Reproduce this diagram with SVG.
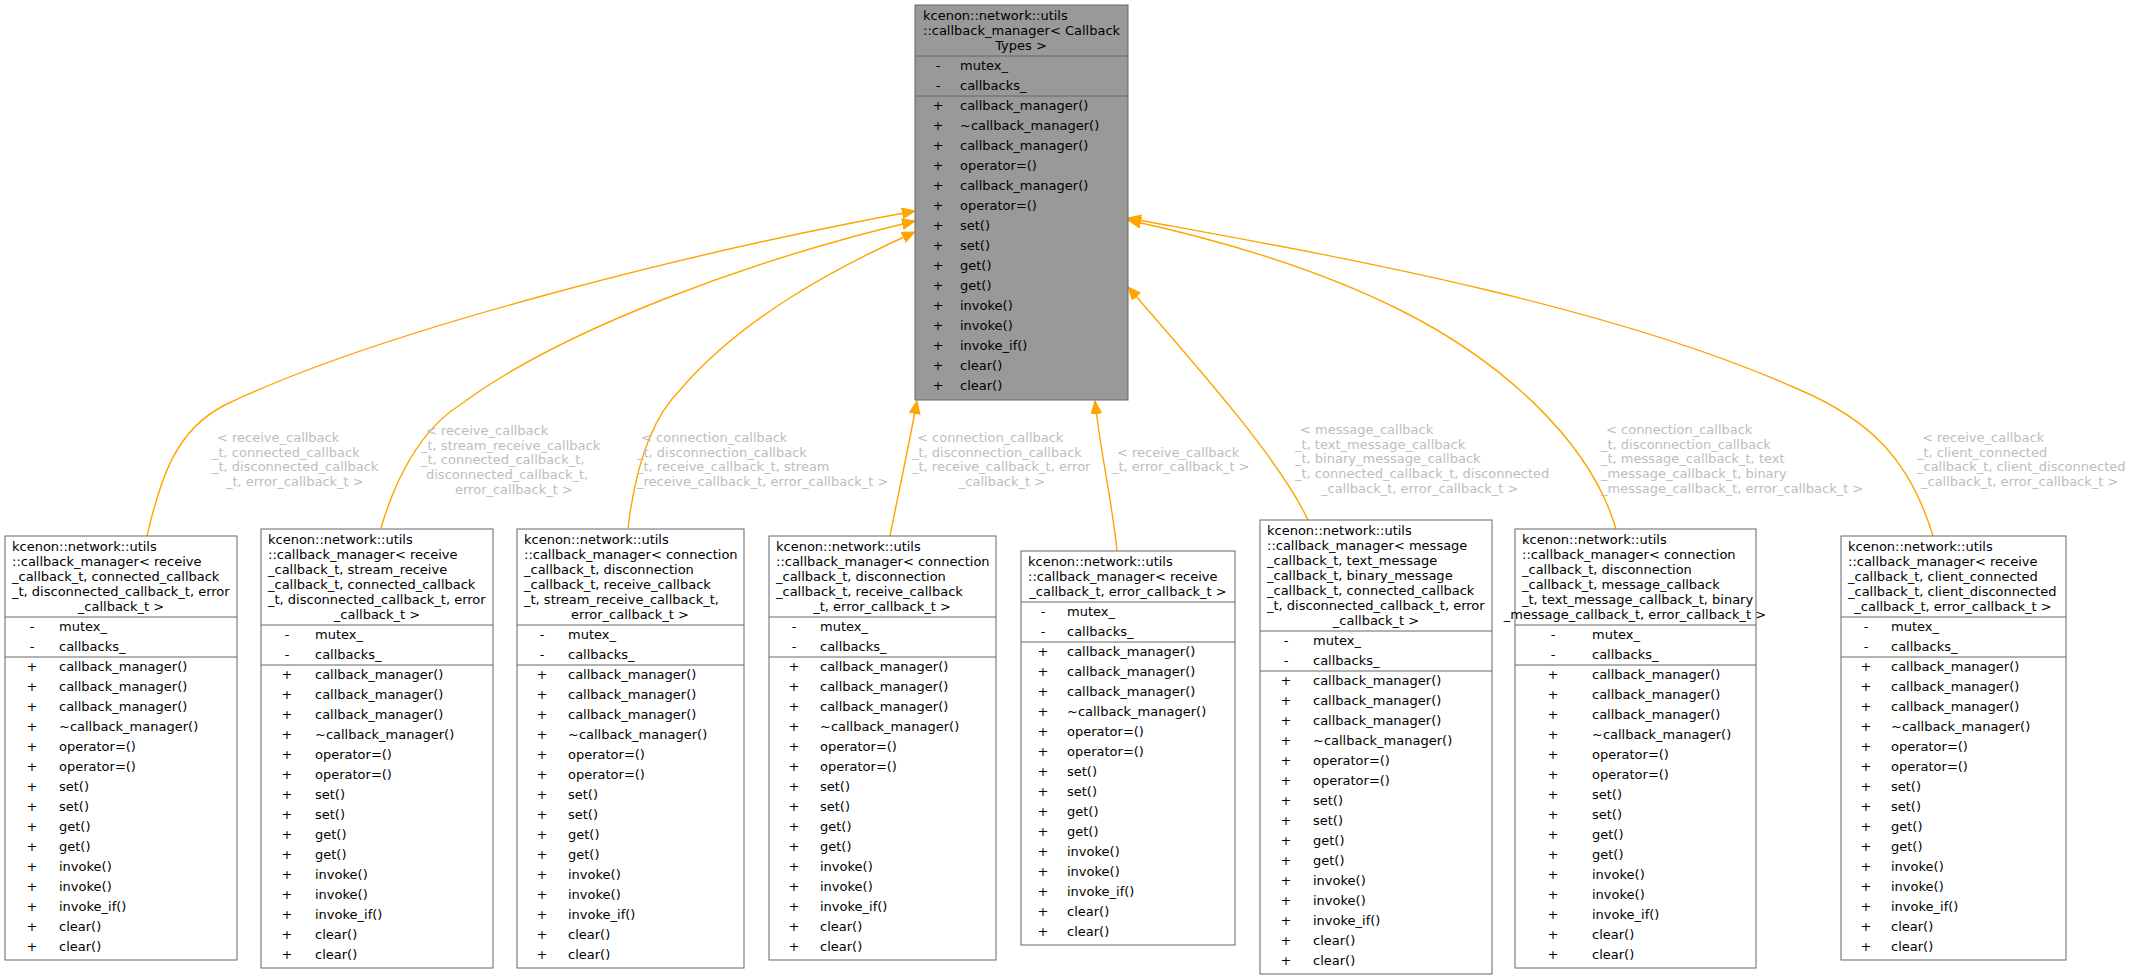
<svg xmlns="http://www.w3.org/2000/svg" width="2133" height="980" viewBox="0 0 2133 980">
<style>
text{font-family:"DejaVu Sans","Liberation Sans",sans-serif;font-size:13px;fill:#000}
.box{fill:#fff;stroke:#666;stroke-width:1}
.top{fill:#999;stroke:#666;stroke-width:1}
.sep{stroke:#666;stroke-width:1}
.c{text-anchor:middle}
.s{text-anchor:middle}
.lbl{fill:#bdbdbd}
.e{fill:none;stroke:#ffa500;stroke-width:1.4}
</style>
<defs>
<marker id="ar" markerUnits="userSpaceOnUse" markerWidth="14" markerHeight="12" refX="13" refY="5.5" orient="auto">
<path d="M0,0 L13,5.5 L0,11 z" fill="#ffa500" stroke="#ffa500"/>
</marker>
</defs>
<rect width="2133" height="980" fill="#fff"/>

<g id="connectors">
<path class="e" marker-end="url(#ar)" d="M147,536 C160,480 175,430 225,405 C380,330 700,250 915,211"/>
<path class="e" marker-end="url(#ar)" d="M381,528 C395,480 420,430 460,405 C560,330 750,260 915,221"/>
<path class="e" marker-end="url(#ar)" d="M628,528 C635,470 650,420 680,390 C740,320 830,270 915,232"/>
<path class="e" marker-end="url(#ar)" d="M890,536 C897,500 908,450 917,401"/>
<path class="e" marker-end="url(#ar)" d="M1117,551 C1112,500 1100,450 1095,401"/>
<path class="e" marker-end="url(#ar)" d="M1308,520 C1280,460 1200,370 1128,287"/>
<path class="e" marker-end="url(#ar)" d="M1616,529 C1590,440 1500,360 1400,310 C1320,270 1220,240 1128,220"/>
<path class="e" marker-end="url(#ar)" d="M1933,536 C1910,460 1870,420 1800,390 C1600,300 1300,250 1128,218"/>
<text class="lbl"><tspan x="217" y="442">&lt; receive_callback</tspan><tspan x="212" y="457">_t, connected_callback</tspan><tspan x="212" y="471">_t, disconnected_callback</tspan><tspan x="226" y="486">_t, error_callback_t &gt;</tspan></text>
<text class="lbl"><tspan x="426" y="435">&lt; receive_callback</tspan><tspan x="421" y="450">_t, stream_receive_callback</tspan><tspan x="421" y="464">_t, connected_callback_t,</tspan><tspan x="426" y="479">disconnected_callback_t,</tspan><tspan x="455" y="494">error_callback_t &gt;</tspan></text>
<text class="lbl"><tspan x="641" y="442">&lt; connection_callback</tspan><tspan x="637" y="457">_t, disconnection_callback</tspan><tspan x="637" y="471">_t, receive_callback_t, stream</tspan><tspan x="637" y="486">_receive_callback_t, error_callback_t &gt;</tspan></text>
<text class="lbl"><tspan x="917" y="442">&lt; connection_callback</tspan><tspan x="912" y="457">_t, disconnection_callback</tspan><tspan x="912" y="471">_t, receive_callback_t, error</tspan><tspan x="1002" y="486" class="c">_callback_t &gt;</tspan></text>
<text class="lbl"><tspan x="1117" y="457">&lt; receive_callback</tspan><tspan x="1112" y="471">_t, error_callback_t &gt;</tspan></text>
<text class="lbl"><tspan x="1300" y="434">&lt; message_callback</tspan><tspan x="1295" y="449">_t, text_message_callback</tspan><tspan x="1295" y="463">_t, binary_message_callback</tspan><tspan x="1295" y="478">_t, connected_callback_t, disconnected</tspan><tspan x="1321" y="493">_callback_t, error_callback_t &gt;</tspan></text>
<text class="lbl"><tspan x="1606" y="434">&lt; connection_callback</tspan><tspan x="1601" y="449">_t, disconnection_callback</tspan><tspan x="1601" y="463">_t, message_callback_t, text</tspan><tspan x="1601" y="478">_message_callback_t, binary</tspan><tspan x="1601" y="493">_message_callback_t, error_callback_t &gt;</tspan></text>
<text class="lbl"><tspan x="1922" y="442">&lt; receive_callback</tspan><tspan x="1917" y="457">_t, client_connected</tspan><tspan x="1917" y="471">_callback_t, client_disconnected</tspan><tspan x="1921" y="486">_callback_t, error_callback_t &gt;</tspan></text>
</g>

<g id="base">
<rect class="top" x="915" y="5" width="213" height="395"/>
<text><tspan x="923" y="20">kcenon::network::utils</tspan><tspan x="923" y="35">::callback_manager&lt; Callback</tspan><tspan x="1021" y="50" class="c">Types &gt;</tspan></text>
<line class="sep" x1="915" y1="56" x2="1128" y2="56"/>
<text class="s"><tspan x="938" y="70">-</tspan><tspan x="938" y="90">-</tspan></text>
<text><tspan x="960" y="70">mutex_</tspan><tspan x="960" y="90">callbacks_</tspan></text>
<line class="sep" x1="915" y1="96" x2="1128" y2="96"/>
<text class="s"><tspan x="938" y="110">+</tspan><tspan x="938" dy="20">+</tspan><tspan x="938" dy="20">+</tspan><tspan x="938" dy="20">+</tspan><tspan x="938" dy="20">+</tspan><tspan x="938" dy="20">+</tspan><tspan x="938" dy="20">+</tspan><tspan x="938" dy="20">+</tspan><tspan x="938" dy="20">+</tspan><tspan x="938" dy="20">+</tspan><tspan x="938" dy="20">+</tspan><tspan x="938" dy="20">+</tspan><tspan x="938" dy="20">+</tspan><tspan x="938" dy="20">+</tspan><tspan x="938" dy="20">+</tspan></text>
<text><tspan x="960" y="110">callback_manager()</tspan><tspan x="960" dy="20">~callback_manager()</tspan><tspan x="960" dy="20">callback_manager()</tspan><tspan x="960" dy="20">operator=()</tspan><tspan x="960" dy="20">callback_manager()</tspan><tspan x="960" dy="20">operator=()</tspan><tspan x="960" dy="20">set()</tspan><tspan x="960" dy="20">set()</tspan><tspan x="960" dy="20">get()</tspan><tspan x="960" dy="20">get()</tspan><tspan x="960" dy="20">invoke()</tspan><tspan x="960" dy="20">invoke()</tspan><tspan x="960" dy="20">invoke_if()</tspan><tspan x="960" dy="20">clear()</tspan><tspan x="960" dy="20">clear()</tspan></text>
</g>

<g id="n1">
<rect class="box" x="5" y="536" width="232" height="424"/>
<text><tspan x="12" y="551">kcenon::network::utils</tspan><tspan x="12" y="566">::callback_manager&lt; receive</tspan><tspan x="12" y="581">_callback_t, connected_callback</tspan><tspan x="12" y="596">_t, disconnected_callback_t, error</tspan><tspan x="121" y="611" class="c">_callback_t &gt;</tspan></text>
<line class="sep" x1="5" y1="617" x2="237" y2="617"/>
<text class="s"><tspan x="32" y="631">-</tspan><tspan x="32" y="651">-</tspan></text>
<text><tspan x="59" y="631">mutex_</tspan><tspan x="59" y="651">callbacks_</tspan></text>
<line class="sep" x1="5" y1="657" x2="237" y2="657"/>
<text class="s"><tspan x="32" y="671">+</tspan><tspan x="32" dy="20">+</tspan><tspan x="32" dy="20">+</tspan><tspan x="32" dy="20">+</tspan><tspan x="32" dy="20">+</tspan><tspan x="32" dy="20">+</tspan><tspan x="32" dy="20">+</tspan><tspan x="32" dy="20">+</tspan><tspan x="32" dy="20">+</tspan><tspan x="32" dy="20">+</tspan><tspan x="32" dy="20">+</tspan><tspan x="32" dy="20">+</tspan><tspan x="32" dy="20">+</tspan><tspan x="32" dy="20">+</tspan><tspan x="32" dy="20">+</tspan></text>
<text><tspan x="59" y="671">callback_manager()</tspan><tspan x="59" dy="20">callback_manager()</tspan><tspan x="59" dy="20">callback_manager()</tspan><tspan x="59" dy="20">~callback_manager()</tspan><tspan x="59" dy="20">operator=()</tspan><tspan x="59" dy="20">operator=()</tspan><tspan x="59" dy="20">set()</tspan><tspan x="59" dy="20">set()</tspan><tspan x="59" dy="20">get()</tspan><tspan x="59" dy="20">get()</tspan><tspan x="59" dy="20">invoke()</tspan><tspan x="59" dy="20">invoke()</tspan><tspan x="59" dy="20">invoke_if()</tspan><tspan x="59" dy="20">clear()</tspan><tspan x="59" dy="20">clear()</tspan></text>
</g>

<g id="n2">
<rect class="box" x="261" y="529" width="232" height="439"/>
<text><tspan x="268" y="544">kcenon::network::utils</tspan><tspan x="268" y="559">::callback_manager&lt; receive</tspan><tspan x="268" y="574">_callback_t, stream_receive</tspan><tspan x="268" y="589">_callback_t, connected_callback</tspan><tspan x="268" y="604">_t, disconnected_callback_t, error</tspan><tspan x="377" y="619" class="c">_callback_t &gt;</tspan></text>
<line class="sep" x1="261" y1="625" x2="493" y2="625"/>
<text class="s"><tspan x="287" y="639">-</tspan><tspan x="287" y="659">-</tspan></text>
<text><tspan x="315" y="639">mutex_</tspan><tspan x="315" y="659">callbacks_</tspan></text>
<line class="sep" x1="261" y1="665" x2="493" y2="665"/>
<text class="s"><tspan x="287" y="679">+</tspan><tspan x="287" dy="20">+</tspan><tspan x="287" dy="20">+</tspan><tspan x="287" dy="20">+</tspan><tspan x="287" dy="20">+</tspan><tspan x="287" dy="20">+</tspan><tspan x="287" dy="20">+</tspan><tspan x="287" dy="20">+</tspan><tspan x="287" dy="20">+</tspan><tspan x="287" dy="20">+</tspan><tspan x="287" dy="20">+</tspan><tspan x="287" dy="20">+</tspan><tspan x="287" dy="20">+</tspan><tspan x="287" dy="20">+</tspan><tspan x="287" dy="20">+</tspan></text>
<text><tspan x="315" y="679">callback_manager()</tspan><tspan x="315" dy="20">callback_manager()</tspan><tspan x="315" dy="20">callback_manager()</tspan><tspan x="315" dy="20">~callback_manager()</tspan><tspan x="315" dy="20">operator=()</tspan><tspan x="315" dy="20">operator=()</tspan><tspan x="315" dy="20">set()</tspan><tspan x="315" dy="20">set()</tspan><tspan x="315" dy="20">get()</tspan><tspan x="315" dy="20">get()</tspan><tspan x="315" dy="20">invoke()</tspan><tspan x="315" dy="20">invoke()</tspan><tspan x="315" dy="20">invoke_if()</tspan><tspan x="315" dy="20">clear()</tspan><tspan x="315" dy="20">clear()</tspan></text>
</g>

<g id="n3">
<rect class="box" x="517" y="529" width="227" height="439"/>
<text><tspan x="524" y="544">kcenon::network::utils</tspan><tspan x="524" y="559">::callback_manager&lt; connection</tspan><tspan x="524" y="574">_callback_t, disconnection</tspan><tspan x="524" y="589">_callback_t, receive_callback</tspan><tspan x="524" y="604">_t, stream_receive_callback_t,</tspan><tspan x="630" y="619" class="c">error_callback_t &gt;</tspan></text>
<line class="sep" x1="517" y1="625" x2="744" y2="625"/>
<text class="s"><tspan x="542" y="639">-</tspan><tspan x="542" y="659">-</tspan></text>
<text><tspan x="568" y="639">mutex_</tspan><tspan x="568" y="659">callbacks_</tspan></text>
<line class="sep" x1="517" y1="665" x2="744" y2="665"/>
<text class="s"><tspan x="542" y="679">+</tspan><tspan x="542" dy="20">+</tspan><tspan x="542" dy="20">+</tspan><tspan x="542" dy="20">+</tspan><tspan x="542" dy="20">+</tspan><tspan x="542" dy="20">+</tspan><tspan x="542" dy="20">+</tspan><tspan x="542" dy="20">+</tspan><tspan x="542" dy="20">+</tspan><tspan x="542" dy="20">+</tspan><tspan x="542" dy="20">+</tspan><tspan x="542" dy="20">+</tspan><tspan x="542" dy="20">+</tspan><tspan x="542" dy="20">+</tspan><tspan x="542" dy="20">+</tspan></text>
<text><tspan x="568" y="679">callback_manager()</tspan><tspan x="568" dy="20">callback_manager()</tspan><tspan x="568" dy="20">callback_manager()</tspan><tspan x="568" dy="20">~callback_manager()</tspan><tspan x="568" dy="20">operator=()</tspan><tspan x="568" dy="20">operator=()</tspan><tspan x="568" dy="20">set()</tspan><tspan x="568" dy="20">set()</tspan><tspan x="568" dy="20">get()</tspan><tspan x="568" dy="20">get()</tspan><tspan x="568" dy="20">invoke()</tspan><tspan x="568" dy="20">invoke()</tspan><tspan x="568" dy="20">invoke_if()</tspan><tspan x="568" dy="20">clear()</tspan><tspan x="568" dy="20">clear()</tspan></text>
</g>

<g id="n4">
<rect class="box" x="769" y="536" width="227" height="424"/>
<text><tspan x="776" y="551">kcenon::network::utils</tspan><tspan x="776" y="566">::callback_manager&lt; connection</tspan><tspan x="776" y="581">_callback_t, disconnection</tspan><tspan x="776" y="596">_callback_t, receive_callback</tspan><tspan x="882" y="611" class="c">_t, error_callback_t &gt;</tspan></text>
<line class="sep" x1="769" y1="617" x2="996" y2="617"/>
<text class="s"><tspan x="794" y="631">-</tspan><tspan x="794" y="651">-</tspan></text>
<text><tspan x="820" y="631">mutex_</tspan><tspan x="820" y="651">callbacks_</tspan></text>
<line class="sep" x1="769" y1="657" x2="996" y2="657"/>
<text class="s"><tspan x="794" y="671">+</tspan><tspan x="794" dy="20">+</tspan><tspan x="794" dy="20">+</tspan><tspan x="794" dy="20">+</tspan><tspan x="794" dy="20">+</tspan><tspan x="794" dy="20">+</tspan><tspan x="794" dy="20">+</tspan><tspan x="794" dy="20">+</tspan><tspan x="794" dy="20">+</tspan><tspan x="794" dy="20">+</tspan><tspan x="794" dy="20">+</tspan><tspan x="794" dy="20">+</tspan><tspan x="794" dy="20">+</tspan><tspan x="794" dy="20">+</tspan><tspan x="794" dy="20">+</tspan></text>
<text><tspan x="820" y="671">callback_manager()</tspan><tspan x="820" dy="20">callback_manager()</tspan><tspan x="820" dy="20">callback_manager()</tspan><tspan x="820" dy="20">~callback_manager()</tspan><tspan x="820" dy="20">operator=()</tspan><tspan x="820" dy="20">operator=()</tspan><tspan x="820" dy="20">set()</tspan><tspan x="820" dy="20">set()</tspan><tspan x="820" dy="20">get()</tspan><tspan x="820" dy="20">get()</tspan><tspan x="820" dy="20">invoke()</tspan><tspan x="820" dy="20">invoke()</tspan><tspan x="820" dy="20">invoke_if()</tspan><tspan x="820" dy="20">clear()</tspan><tspan x="820" dy="20">clear()</tspan></text>
</g>

<g id="n5">
<rect class="box" x="1021" y="551" width="214" height="394"/>
<text><tspan x="1028" y="566">kcenon::network::utils</tspan><tspan x="1028" y="581">::callback_manager&lt; receive</tspan><tspan x="1128" y="596" class="c">_callback_t, error_callback_t &gt;</tspan></text>
<line class="sep" x1="1021" y1="602" x2="1235" y2="602"/>
<text class="s"><tspan x="1043" y="616">-</tspan><tspan x="1043" y="636">-</tspan></text>
<text><tspan x="1067" y="616">mutex_</tspan><tspan x="1067" y="636">callbacks_</tspan></text>
<line class="sep" x1="1021" y1="642" x2="1235" y2="642"/>
<text class="s"><tspan x="1043" y="656">+</tspan><tspan x="1043" dy="20">+</tspan><tspan x="1043" dy="20">+</tspan><tspan x="1043" dy="20">+</tspan><tspan x="1043" dy="20">+</tspan><tspan x="1043" dy="20">+</tspan><tspan x="1043" dy="20">+</tspan><tspan x="1043" dy="20">+</tspan><tspan x="1043" dy="20">+</tspan><tspan x="1043" dy="20">+</tspan><tspan x="1043" dy="20">+</tspan><tspan x="1043" dy="20">+</tspan><tspan x="1043" dy="20">+</tspan><tspan x="1043" dy="20">+</tspan><tspan x="1043" dy="20">+</tspan></text>
<text><tspan x="1067" y="656">callback_manager()</tspan><tspan x="1067" dy="20">callback_manager()</tspan><tspan x="1067" dy="20">callback_manager()</tspan><tspan x="1067" dy="20">~callback_manager()</tspan><tspan x="1067" dy="20">operator=()</tspan><tspan x="1067" dy="20">operator=()</tspan><tspan x="1067" dy="20">set()</tspan><tspan x="1067" dy="20">set()</tspan><tspan x="1067" dy="20">get()</tspan><tspan x="1067" dy="20">get()</tspan><tspan x="1067" dy="20">invoke()</tspan><tspan x="1067" dy="20">invoke()</tspan><tspan x="1067" dy="20">invoke_if()</tspan><tspan x="1067" dy="20">clear()</tspan><tspan x="1067" dy="20">clear()</tspan></text>
</g>

<g id="n6">
<rect class="box" x="1260" y="520" width="232" height="454"/>
<text><tspan x="1267" y="535">kcenon::network::utils</tspan><tspan x="1267" y="550">::callback_manager&lt; message</tspan><tspan x="1267" y="565">_callback_t, text_message</tspan><tspan x="1267" y="580">_callback_t, binary_message</tspan><tspan x="1267" y="595">_callback_t, connected_callback</tspan><tspan x="1267" y="610">_t, disconnected_callback_t, error</tspan><tspan x="1376" y="625" class="c">_callback_t &gt;</tspan></text>
<line class="sep" x1="1260" y1="631" x2="1492" y2="631"/>
<text class="s"><tspan x="1286" y="645">-</tspan><tspan x="1286" y="665">-</tspan></text>
<text><tspan x="1313" y="645">mutex_</tspan><tspan x="1313" y="665">callbacks_</tspan></text>
<line class="sep" x1="1260" y1="671" x2="1492" y2="671"/>
<text class="s"><tspan x="1286" y="685">+</tspan><tspan x="1286" dy="20">+</tspan><tspan x="1286" dy="20">+</tspan><tspan x="1286" dy="20">+</tspan><tspan x="1286" dy="20">+</tspan><tspan x="1286" dy="20">+</tspan><tspan x="1286" dy="20">+</tspan><tspan x="1286" dy="20">+</tspan><tspan x="1286" dy="20">+</tspan><tspan x="1286" dy="20">+</tspan><tspan x="1286" dy="20">+</tspan><tspan x="1286" dy="20">+</tspan><tspan x="1286" dy="20">+</tspan><tspan x="1286" dy="20">+</tspan><tspan x="1286" dy="20">+</tspan></text>
<text><tspan x="1313" y="685">callback_manager()</tspan><tspan x="1313" dy="20">callback_manager()</tspan><tspan x="1313" dy="20">callback_manager()</tspan><tspan x="1313" dy="20">~callback_manager()</tspan><tspan x="1313" dy="20">operator=()</tspan><tspan x="1313" dy="20">operator=()</tspan><tspan x="1313" dy="20">set()</tspan><tspan x="1313" dy="20">set()</tspan><tspan x="1313" dy="20">get()</tspan><tspan x="1313" dy="20">get()</tspan><tspan x="1313" dy="20">invoke()</tspan><tspan x="1313" dy="20">invoke()</tspan><tspan x="1313" dy="20">invoke_if()</tspan><tspan x="1313" dy="20">clear()</tspan><tspan x="1313" dy="20">clear()</tspan></text>
</g>

<g id="n7">
<rect class="box" x="1515" y="529" width="241" height="439"/>
<text><tspan x="1522" y="544">kcenon::network::utils</tspan><tspan x="1522" y="559">::callback_manager&lt; connection</tspan><tspan x="1522" y="574">_callback_t, disconnection</tspan><tspan x="1522" y="589">_callback_t, message_callback</tspan><tspan x="1522" y="604">_t, text_message_callback_t, binary</tspan><tspan x="1635" y="619" class="c">_message_callback_t, error_callback_t &gt;</tspan></text>
<line class="sep" x1="1515" y1="625" x2="1756" y2="625"/>
<text class="s"><tspan x="1553" y="639">-</tspan><tspan x="1553" y="659">-</tspan></text>
<text><tspan x="1592" y="639">mutex_</tspan><tspan x="1592" y="659">callbacks_</tspan></text>
<line class="sep" x1="1515" y1="665" x2="1756" y2="665"/>
<text class="s"><tspan x="1553" y="679">+</tspan><tspan x="1553" dy="20">+</tspan><tspan x="1553" dy="20">+</tspan><tspan x="1553" dy="20">+</tspan><tspan x="1553" dy="20">+</tspan><tspan x="1553" dy="20">+</tspan><tspan x="1553" dy="20">+</tspan><tspan x="1553" dy="20">+</tspan><tspan x="1553" dy="20">+</tspan><tspan x="1553" dy="20">+</tspan><tspan x="1553" dy="20">+</tspan><tspan x="1553" dy="20">+</tspan><tspan x="1553" dy="20">+</tspan><tspan x="1553" dy="20">+</tspan><tspan x="1553" dy="20">+</tspan></text>
<text><tspan x="1592" y="679">callback_manager()</tspan><tspan x="1592" dy="20">callback_manager()</tspan><tspan x="1592" dy="20">callback_manager()</tspan><tspan x="1592" dy="20">~callback_manager()</tspan><tspan x="1592" dy="20">operator=()</tspan><tspan x="1592" dy="20">operator=()</tspan><tspan x="1592" dy="20">set()</tspan><tspan x="1592" dy="20">set()</tspan><tspan x="1592" dy="20">get()</tspan><tspan x="1592" dy="20">get()</tspan><tspan x="1592" dy="20">invoke()</tspan><tspan x="1592" dy="20">invoke()</tspan><tspan x="1592" dy="20">invoke_if()</tspan><tspan x="1592" dy="20">clear()</tspan><tspan x="1592" dy="20">clear()</tspan></text>
</g>

<g id="n8">
<rect class="box" x="1841" y="536" width="225" height="424"/>
<text><tspan x="1848" y="551">kcenon::network::utils</tspan><tspan x="1848" y="566">::callback_manager&lt; receive</tspan><tspan x="1848" y="581">_callback_t, client_connected</tspan><tspan x="1848" y="596">_callback_t, client_disconnected</tspan><tspan x="1953" y="611" class="c">_callback_t, error_callback_t &gt;</tspan></text>
<line class="sep" x1="1841" y1="617" x2="2066" y2="617"/>
<text class="s"><tspan x="1866" y="631">-</tspan><tspan x="1866" y="651">-</tspan></text>
<text><tspan x="1891" y="631">mutex_</tspan><tspan x="1891" y="651">callbacks_</tspan></text>
<line class="sep" x1="1841" y1="657" x2="2066" y2="657"/>
<text class="s"><tspan x="1866" y="671">+</tspan><tspan x="1866" dy="20">+</tspan><tspan x="1866" dy="20">+</tspan><tspan x="1866" dy="20">+</tspan><tspan x="1866" dy="20">+</tspan><tspan x="1866" dy="20">+</tspan><tspan x="1866" dy="20">+</tspan><tspan x="1866" dy="20">+</tspan><tspan x="1866" dy="20">+</tspan><tspan x="1866" dy="20">+</tspan><tspan x="1866" dy="20">+</tspan><tspan x="1866" dy="20">+</tspan><tspan x="1866" dy="20">+</tspan><tspan x="1866" dy="20">+</tspan><tspan x="1866" dy="20">+</tspan></text>
<text><tspan x="1891" y="671">callback_manager()</tspan><tspan x="1891" dy="20">callback_manager()</tspan><tspan x="1891" dy="20">callback_manager()</tspan><tspan x="1891" dy="20">~callback_manager()</tspan><tspan x="1891" dy="20">operator=()</tspan><tspan x="1891" dy="20">operator=()</tspan><tspan x="1891" dy="20">set()</tspan><tspan x="1891" dy="20">set()</tspan><tspan x="1891" dy="20">get()</tspan><tspan x="1891" dy="20">get()</tspan><tspan x="1891" dy="20">invoke()</tspan><tspan x="1891" dy="20">invoke()</tspan><tspan x="1891" dy="20">invoke_if()</tspan><tspan x="1891" dy="20">clear()</tspan><tspan x="1891" dy="20">clear()</tspan></text>
</g>
</svg>
